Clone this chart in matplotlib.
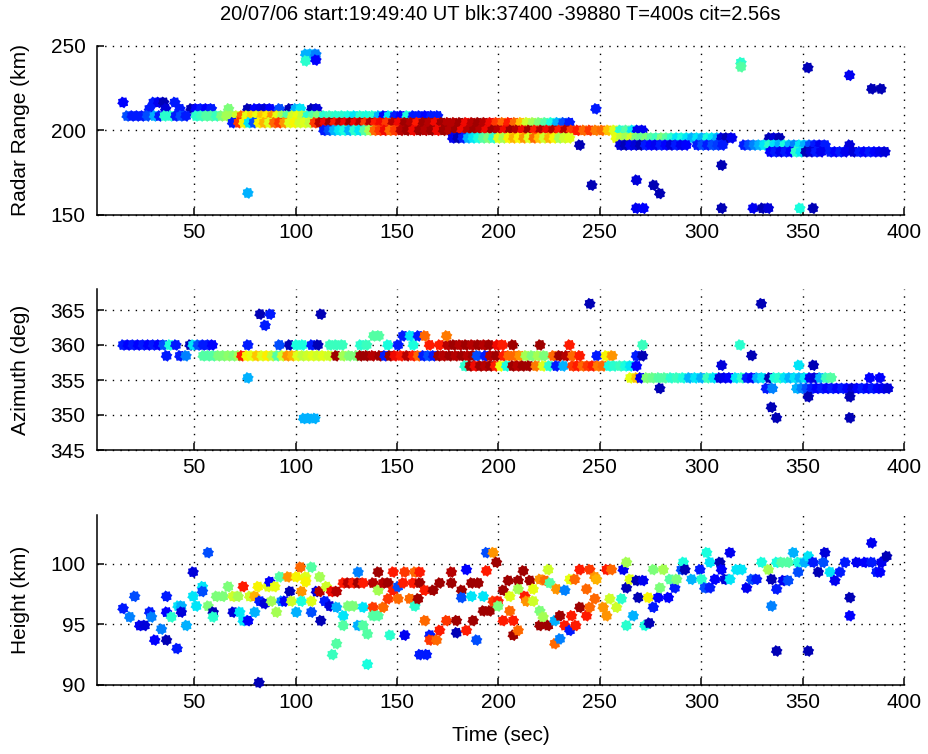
import numpy as np
import matplotlib
matplotlib.use("Agg")
import matplotlib.pyplot as plt
from matplotlib.path import Path

plt.rcParams['font.family'] = ['Liberation Sans', 'DejaVu Sans']

TITLE = "20/07/06 start:19:49:40 UT blk:37400 -39880 T=400s cit=2.56s"
XTICKS = [50, 100, 150, 200, 250, 300, 350, 400]

# ---------------- Radar range panel: horizontal bands (level in km) ----------------
range_levels = [216.5, 212.7, 208.5, 204.5, 200.0, 195.5, 191.3, 187.3]
range_band_t = [
    [15, 30, 32.5, 35, 40.5],
    [28, 36, 43, 48.5, 51, 53.5, 56, 58.5, 67, 76.5, 80, 82.5, 85, 87.5, 92, 97, 100, 102.5, 108, 110.5],
    [17, 19.5, 22, 24.5, 27, 30.5, 33, 35.5, 38.5, 41, 43.5, 46, 51, 53.5, 56, 58.5, 61, 63.5, 66, 68.5,
     71, 73.5, 76, 78.5, 81, 83.5, 86, 88.5, 91, 93.5, 96, 98.5, 101, 103.5, 106, 108.5, 111, 114, 117, 120,
     123, 126, 129, 132, 135, 138, 141, 143.5, 146, 149, 152, 155, 158, 161, 164, 167, 170],
    [69, 72, 74.5, 77, 79.5, 82, 84.5, 87, 89.5, 92, 94.5, 97, 99.5, 102, 104.5, 107, 109.5, 112, 114.5, 117,
     119.5, 122, 124.5, 127, 129.5, 132, 134.5, 137, 139.5, 142, 145, 148, 151, 154, 157, 160, 163, 166, 169, 172,
     175, 178, 181, 184, 187, 190, 193, 196, 199, 202, 205, 208, 211, 214, 217, 220, 223, 226, 229, 232, 235],
    [114, 116.5, 119, 121.5, 124, 126.5, 129, 131.5, 134, 136.5, 139, 141.5, 144, 146.5, 149, 152, 155, 158, 161, 164,
     167, 170, 173, 176, 179, 182, 185, 188, 191, 194, 197, 200, 203, 206, 209, 212, 215, 218, 221, 224,
     227, 230, 233, 236, 239, 242, 245, 248, 251, 254, 257, 260, 263, 266, 268.5, 271],
    [177.5, 180, 182.5, 185, 187.5, 190, 192.5, 195, 197.5, 200, 202.5, 205, 207.5, 210, 212.5, 215, 217.5, 220, 222.5, 225,
     227.5, 230, 232.5, 235, 258, 260.5, 263, 265.5, 268, 270.5, 273, 275.5, 278, 280.5, 283, 285.5, 288, 290.5, 293, 295.5,
     298, 300.5, 303, 305.5, 308, 310, 312.5, 315, 333.5, 336, 338.5],
    [240, 260, 262.5, 265, 267.5, 270, 272.5, 275, 277.5, 280, 282.5, 285, 287.5, 290, 292.5, 298, 300.5, 303, 305.5, 308,
     310.5, 321, 323.5, 326, 328.5, 331, 333.5, 336, 338.5, 341, 343.5, 346, 348.5, 351, 353.5, 356, 358.5, 361, 373],
    [334, 336.5, 339, 341.5, 344, 346.5, 349, 351.5, 354, 356.5, 359, 363.5, 366, 368.5, 371, 375, 378, 380.5, 383, 385.5,
     388, 390.5],
]
range_band_c = [
    [0.12, 0.15, 0.1, 0.05, 0.15],
    [0.15, 0.08, 0.15, 0.05, 0.12, 0.15, 0.12, 0.15, 0.5, 0.05, 0.12, 0.1, 0.08, 0.12, 0.2, 0.05, 0.3, 0.35, 0.05, 0.08],
    [0.2, 0.15, 0.15, 0.15, 0.2, 0.3, 0.15, 0.4, 0.4, 0.15, 0.2, 0.15, 0.4, 0.42, 0.45, 0.45, 0.42, 0.5, 0.55, 0.55,
     0.6, 0.8, 0.63, 0.68, 0.63, 0.7, 0.66, 0.75, 0.63, 0.55, 0.45, 0.6, 0.63, 0.58, 0.4, 0.45, 0.5, 0.4, 0.42, 0.4,
     0.4, 0.38, 0.35, 0.4, 0.38, 0.4, 0.3, 0.12, 0.35, 0.15, 0.12, 0.38, 0.15, 0.15, 0.12, 0.15, 0.15],
    [0.15, 0.85, 0.65, 0.35, 0.2, 0.65, 0.72, 0.62, 0.8, 0.85, 0.75, 0.62, 0.65, 0.6, 0.62, 0.58, 0.85, 0.95, 0.9, 0.97,
     0.88, 0.95, 0.9, 0.97, 0.9, 0.95, 0.85, 0.95, 0.88, 0.9, 0.85, 0.95, 0.9, 0.97, 0.95, 0.88, 0.97, 0.95, 0.9, 0.97,
     0.95, 0.95, 0.97, 0.9, 0.95, 0.97, 0.95, 0.9, 0.85, 0.8, 0.88, 0.8, 0.7, 0.6, 0.55, 0.5, 0.45, 0.38, 0.3, 0.2, 0.15],
    [0.15, 0.2, 0.3, 0.35, 0.38, 0.3, 0.4, 0.35, 0.45, 0.55, 0.8, 0.85, 0.9, 0.8, 0.85, 0.95, 0.97, 0.9, 0.97, 0.95,
     0.97, 0.9, 0.97, 0.95, 0.97, 0.9, 0.95, 0.97, 0.95, 0.9, 0.97, 0.95, 0.9, 0.97, 0.95, 0.9, 0.97, 0.88, 0.95, 0.9,
     0.95, 0.88, 0.95, 0.85, 0.88, 0.8, 0.85, 0.78, 0.8, 0.7, 0.62, 0.4, 0.45, 0.35, 0.1, 0.1],
    [0.1, 0.05, 0.15, 0.3, 0.35, 0.38, 0.45, 0.5, 0.4, 0.62, 0.55, 0.65, 0.72, 0.65, 0.75, 0.62, 0.8, 0.7, 0.6, 0.72,
     0.65, 0.55, 0.6, 0.62, 0.63, 0.58, 0.55, 0.6, 0.5, 0.48, 0.5, 0.45, 0.42, 0.5, 0.45, 0.4, 0.35, 0.38, 0.35, 0.3,
     0.35, 0.3, 0.38, 0.35, 0.3, 0.08, 0.05, 0.1, 0.05, 0.08, 0.05],
    [0.05, 0.08, 0.05, 0.1, 0.08, 0.05, 0.15, 0.12, 0.1, 0.15, 0.12, 0.08, 0.15, 0.1, 0.12, 0.15, 0.2, 0.15, 0.2, 0.18,
     0.15, 0.15, 0.2, 0.25, 0.3, 0.35, 0.4, 0.35, 0.3, 0.38, 0.3, 0.25, 0.35, 0.3, 0.2, 0.15, 0.1, 0.15, 0.08],
    [0.12, 0.15, 0.1, 0.15, 0.12, 0.4, 0.35, 0.05, 0.08, 0.15, 0.1, 0.15, 0.12, 0.15, 0.1, 0.08, 0.15, 0.12, 0.15, 0.12,
     0.1, 0.08],
]
# isolated range echoes
range_out_t = [105, 107.5, 110, 105, 110, 76.5, 319.5, 319.5, 352.5, 373, 384, 388.5, 248, 246,
               268, 276.5, 279.5, 268, 271.5, 310, 310, 325.5, 330, 333, 348.5, 355]
range_out_km = [245, 245, 245, 241, 241.5, 163, 240, 237.5, 237, 232.5, 224.5, 224.5, 212.7, 167.6,
                170.6, 167.6, 162.7, 154, 154, 179.4, 154, 154, 154, 154, 154, 154]
range_out_c = [0.3, 0.3, 0.25, 0.4, 0.12, 0.3, 0.4, 0.45, 0.05, 0.1, 0.05, 0.05, 0.15, 0.05,
               0.08, 0.05, 0.05, 0.1, 0.12, 0.05, 0.05, 0.1, 0.05, 0.08, 0.38, 0.05]

# ---------------- Azimuth panel: horizontal bands (level in deg) ----------------
az_levels = [360.0, 361.3, 358.45, 357.0, 355.3, 353.8]
az_band_t = [
    [15, 17.5, 20, 22.5, 25, 27.5, 30, 32.5, 35, 38, 41, 48, 49.5, 52, 54.5, 57, 59, 76.5, 92, 97,
     100.5, 103.5, 108, 111, 117, 120, 123, 132, 135, 145.5, 150.5, 158, 166, 171, 175, 178, 181, 184, 187, 190,
     193, 195.5, 199.5, 202, 207, 220.5, 235, 271, 319],
    [138.5, 141, 153, 156.5, 160.5, 163.7, 174.4],
    [36.4, 43, 46, 54.5, 57, 59.5, 62, 64.5, 67, 69.5, 72, 73.5, 76, 78.5, 81, 83.5, 86, 88.5, 91, 93.5,
     96, 98.5, 101, 103.5, 106, 108.5, 111, 113.5, 116.5, 120, 123.5, 126.5, 130, 132, 135, 138, 141.5, 144, 146.5, 149,
     152, 155, 158, 160.5, 163, 165.5, 168, 170.5, 173, 176, 179, 182, 185, 187.5, 189.5, 193.5, 196, 199, 202.5, 205,
     208, 210.5, 213.5, 216.5, 219.5, 222.5, 227, 230, 233.5, 236.5, 240, 248.5, 253, 256, 268, 271],
    [183.5, 186, 188.5, 191, 193.5, 196, 198.5, 201, 204, 207, 209.5, 212, 215, 218.5, 222, 225, 228.5, 232, 236.5, 239,
     241.5, 244, 246.5, 249, 251.5, 254.5, 257, 260, 262.5, 265, 268],
    [265, 268, 270, 273, 276, 279, 282, 285, 288, 291, 294, 297, 300, 303, 306, 309, 311.5, 314, 317, 320,
     322.5, 325, 327.5, 330, 333.5, 336, 338.5, 341, 343.5, 346, 348.5, 351, 353.5, 356, 358.5, 361.5, 364, 383, 388],
    [279.5, 332, 335, 347, 349.5, 352, 354.5, 357, 359.5, 362, 364.5, 367, 369.5, 372, 374.5, 377, 379.5, 382, 384.5, 387,
     389.5, 392],
]
az_band_c = [
    [0.15, 0.12, 0.15, 0.12, 0.15, 0.12, 0.15, 0.12, 0.2, 0.38, 0.15, 0.05, 0.35, 0.2, 0.15, 0.15, 0.12, 0.15, 0.2, 0.05,
     0.38, 0.38, 0.15, 0.05, 0.42, 0.42, 0.42, 0.4, 0.42, 0.38, 0.15, 0.38, 0.88, 0.88, 0.95, 0.97, 0.95, 0.97, 0.95, 0.97,
     0.95, 0.97, 0.9, 0.88, 0.97, 0.97, 0.88, 0.42, 0.4],
    [0.45, 0.45, 0.15, 0.35, 0.15, 0.8, 0.78],
    [0.15, 0.15, 0.25, 0.45, 0.45, 0.45, 0.5, 0.5, 0.52, 0.5, 0.55, 0.88, 0.65, 0.63, 0.7, 0.62, 0.66, 0.58, 0.45, 0.6,
     0.75, 0.72, 0.62, 0.58, 0.6, 0.62, 0.6, 0.62, 0.6, 0.97, 0.55, 0.5, 0.5, 0.97, 0.97, 0.95, 0.97, 0.15, 0.97, 0.9,
     0.88, 0.95, 0.88, 0.8, 0.15, 0.2, 0.15, 0.97, 0.95, 0.97, 0.95, 0.97, 0.95, 0.97, 0.2, 0.15, 0.95, 0.97, 0.88, 0.8,
     0.8, 0.75, 0.55, 0.5, 0.55, 0.5, 0.8, 0.97, 0.95, 0.8, 0.88, 0.15, 0.65, 0.75, 0.15, 0.05],
    [0.4, 0.97, 0.9, 0.97, 0.95, 0.97, 0.88, 0.63, 0.38, 0.97, 0.95, 0.97, 0.97, 0.78, 0.62, 0.4, 0.15, 0.3, 0.85, 0.88,
     0.8, 0.85, 0.88, 0.78, 0.8, 0.38, 0.4, 0.42, 0.38, 0.35, 0.12],
    [0.63, 0.7, 0.1, 0.5, 0.48, 0.45, 0.45, 0.4, 0.42, 0.38, 0.3, 0.35, 0.3, 0.42, 0.35, 0.08, 0.1, 0.12, 0.35, 0.4,
     0.15, 0.12, 0.3, 0.35, 0.05, 0.38, 0.4, 0.35, 0.3, 0.35, 0.3, 0.35, 0.1, 0.08, 0.3, 0.42, 0.45, 0.12, 0.12],
    [0.05, 0.15, 0.25, 0.3, 0.25, 0.2, 0.15, 0.12, 0.15, 0.12, 0.15, 0.12, 0.15, 0.12, 0.08, 0.12, 0.15, 0.12, 0.15, 0.12,
     0.1, 0.08],
]
az_out_t = [82.5, 87.5, 85, 112.5, 76.5, 104, 106.5, 109.5, 245, 329.5, 324.8, 310, 348, 355.2, 352.7, 373.2,
            334.5, 337, 373.2]
az_out_deg = [364.4, 364.4, 362.8, 364.4, 355.3, 349.5, 349.5, 349.5, 365.9, 365.9, 358.5, 357.1, 357.1, 357.1,
              352.6, 352.6, 351.1, 349.6, 349.6]
az_out_c = [0.05, 0.15, 0.15, 0.05, 0.3, 0.3, 0.3, 0.3, 0.05, 0.05, 0.05, 0.08, 0.35, 0.05, 0.05, 0.05,
            0.05, 0.05, 0.05]

# ---------------- Height panel ----------------
height_t = [
    15, 18.3, 20.7, 23.2, 25.7, 28.1, 29, 30.6, 33.9, 36.4,
    36.4, 36.4, 38.8, 41.6, 42.1, 43.7, 43.7, 46.2, 49.5, 49.5,
    51.1, 54.1, 54.1, 56.9, 56.9, 59.4, 59.4, 61, 64.3, 66.8,
    69.2, 69.2, 71.7, 72.5, 74.2, 74.2, 76.6, 77.4, 79.9, 79.9,
    81.5, 82, 82.4, 84.8, 86.5, 87.3, 88.1, 89.8, 90.6, 92.2,
    93.1, 94.7, 96.3, 97.2, 98.0, 100.4, 100.4, 102.4, 102.9, 102.9,
    105, 105, 107.8, 107.8, 107.8, 110.3, 111.9, 111.9, 112.4, 114.4,
    115.2, 116.9, 117.7, 120.2, 120.2, 120.2, 118.2, 123.5, 123.5, 123.5,
    125.9, 125.9, 128.4, 128.4, 130.8, 130.8, 130.8, 133.3, 133.3, 133.3,
    135.4, 135.4, 138.2, 138.2, 138.2, 140.7, 140.7, 140.7, 143.2, 143.2,
    145.6, 145.6, 146.5, 148.1, 148.1, 150.5, 150.5, 153, 153.8, 153.8,
    156.3, 157.9, 158.8, 158.8, 160.4, 161.2, 161.2, 161.2, 163.7, 163.7,
    164.5, 166.2, 166.2, 167.8, 169.5, 171, 171, 174.4, 176.8, 176.8,
    179.3, 179.3, 181.8, 181.8, 184.2, 184.2, 186.7, 186.7, 187.5, 189.2,
    190, 192.5, 192.5, 194.1, 194.1, 195.7, 197.4, 197.4, 199, 199.8,
    199.8, 202.3, 202.3, 204.8, 205.6, 205.6, 207.3, 207.3, 209.7, 209.7,
    209.7, 212.2, 213, 213.8, 215.5, 217.1, 217.1, 220.4, 220.4, 220.4,
    222, 222.9, 224.5, 224.5, 225.3, 227.8, 227.8, 228.6, 230.3, 230.3,
    232.7, 232.7, 235.2, 235.2, 236, 237.6, 238.1, 240.1, 240.1, 243.4,
    243.4, 245, 245, 247.5, 247.5, 248.3, 251.6, 253.3, 253.3, 254.9,
    255.7, 258.2, 260.6, 261.5, 263.1, 263.1, 263.1, 264.8, 266.4, 268.1,
    268.9, 271.3, 272.2, 273.8, 274.3, 276.3, 276.3, 278.7, 279.6, 281.2,
    283.7, 284.5, 286.9, 287.8, 290.2, 291.1, 291.9, 295.2, 299.3, 300.1,
    301.7, 302.6, 304.2, 304.2, 306.7, 309.1, 309.9, 311.6, 314.1, 314.1,
    317.3, 319.8, 322.3, 324.7, 327.2, 329.7, 333, 334.6, 334.6, 337.1,
    337.1, 337.1, 339.5, 340.3, 342.8, 342.8, 345.3, 347.7, 347.7, 350.9,
    352.7, 352.7, 355.1, 357.6, 360.1, 360.9, 363.4, 365.8, 368.3, 370.8,
    373.2, 373.2, 376.5, 380.6, 383.9, 383.9, 386.4, 388, 388.8, 391.3,
]
height_km = [
    96.3, 95.6, 97.3, 94.9, 94.9, 96.0, 95.6, 93.7, 94.6, 97.3,
    96.0, 93.7, 95.6, 93.0, 96.5, 96.5, 96.0, 94.9, 99.3, 97.3,
    96.5, 98.1, 97.7, 100.9, 96.5, 96.0, 95.6, 97.3, 97.3, 98.1,
    96.0, 97.3, 97.3, 96.0, 98.1, 95.3, 95.3, 97.3, 97.3, 96.0,
    98.1, 90.2, 96.9, 96.7, 98.1, 98.5, 96.9, 98.1, 96.0, 98.9,
    96.9, 96.9, 98.9, 97.7, 96.9, 98.9, 96.0, 99.7, 97.7, 96.9,
    98.9, 98.5, 99.7, 96.9, 96.0, 97.7, 97.7, 98.9, 95.3, 96.9,
    98.1, 96.5, 97.7, 97.7, 96.4, 93.4, 92.5, 98.4, 95.7, 94.9,
    98.4, 96.5, 98.4, 96.5, 99.3, 98.4, 94.9, 98.4, 96.4, 94.9,
    91.7, 94.2, 98.4, 96.4, 95.7, 99.3, 97.8, 95.7, 98.4, 96.4,
    98.4, 97.1, 94.1, 99.3, 97.8, 98.1, 97.1, 98.4, 99.3, 94.1,
    97.1, 98.4, 99.3, 96.5, 97.1, 99.3, 98.4, 92.5, 95.3, 97.8,
    92.5, 94.1, 93.7, 97.8, 93.7, 94.5, 98.4, 95.3, 99.3, 98.4,
    94.3, 95.3, 97.8, 97.2, 99.5, 94.5, 97.3, 98.4, 95.3, 93.7,
    98.4, 97.3, 96.1, 100.9, 99.4, 96.1, 100.9, 96.9, 100.1, 96.9,
    96.5, 97.8, 95.3, 98.6, 97.3, 96.1, 95.3, 94.1, 98.6, 97.9,
    94.5, 99.4, 97.3, 96.9, 98.6, 97.9, 96.9, 98.7, 96.1, 94.9,
    95.6, 98.6, 94.9, 99.5, 98.4, 93.4, 95.3, 97.9, 93.8, 95.7,
    97.8, 94.9, 98.7, 94.5, 95.7, 98.7, 94.9, 99.5, 96.4, 97.9,
    95.7, 99.5, 96.4, 98.9, 97.1, 98.7, 96.4, 99.5, 95.7, 97.1,
    99.5, 96.4, 97.1, 99.5, 100.1, 98.0, 94.9, 98.7, 95.7, 98.6,
    97.2, 98.6, 94.9, 97.2, 95.1, 96.4, 99.5, 97.2, 98.0, 99.5,
    97.2, 98.7, 98.0, 98.7, 99.5, 100.1, 99.5, 98.7, 99.5, 98.7,
    98.0, 100.9, 100.1, 98.0, 98.7, 100.1, 99.5, 98.7, 100.9, 98.7,
    99.5, 99.5, 98.0, 98.7, 98.7, 100.1, 99.5, 98.7, 96.5, 97.9,
    100.1, 92.8, 100.1, 98.6, 98.6, 100.1, 100.9, 100.1, 99.3, 100.1,
    100.6, 92.8, 100.1, 99.3, 100.1, 100.9, 99.3, 98.6, 99.3, 100.1,
    97.2, 95.7, 100.1, 100.1, 101.7, 100.1, 99.3, 99.3, 100.1, 100.6,
]
height_c = [
    0.15, 0.25, 0.2, 0.1, 0.08, 0.15, 0.25, 0.12, 0.25, 0.15,
    0.12, 0.05, 0.4, 0.15, 0.35, 0.3, 0.08, 0.3, 0.08, 0.35,
    0.35, 0.35, 0.2, 0.2, 0.5, 0.05, 0.4, 0.5, 0.5, 0.5,
    0.08, 0.6, 0.55, 0.35, 0.88, 0.35, 0.12, 0.6, 0.72, 0.3,
    0.65, 0.05, 0.15, 0.08, 0.62, 0.12, 0.55, 0.63, 0.55, 0.45,
    0.25, 0.12, 0.75, 0.05, 0.6, 0.65, 0.3, 0.8, 0.75, 0.38,
    0.62, 0.65, 0.45, 0.62, 0.2, 0.08, 0.95, 0.55, 0.05, 0.15,
    0.6, 0.08, 0.9, 0.95, 0.3, 0.45, 0.42, 0.88, 0.35, 0.45,
    0.95, 0.5, 0.88, 0.5, 0.25, 0.97, 0.3, 0.88, 0.35, 0.45,
    0.38, 0.45, 0.95, 0.85, 0.45, 0.97, 0.55, 0.45, 0.95, 0.8,
    0.97, 0.85, 0.4, 0.88, 0.88, 0.2, 0.8, 0.88, 0.85, 0.1,
    0.8, 0.88, 0.8, 0.4, 0.97, 0.88, 0.97, 0.15, 0.8, 0.88,
    0.15, 0.15, 0.85, 0.97, 0.8, 0.88, 0.97, 0.85, 0.95, 0.97,
    0.05, 0.97, 0.97, 0.2, 0.12, 0.88, 0.35, 0.97, 0.97, 0.2,
    0.97, 0.35, 0.97, 0.2, 0.88, 0.97, 0.75, 0.85, 0.97, 0.88,
    0.5, 0.97, 0.88, 0.97, 0.62, 0.8, 0.88, 0.97, 0.97, 0.55,
    0.8, 0.97, 0.88, 0.75, 0.97, 0.63, 0.6, 0.75, 0.5, 0.97,
    0.55, 0.8, 0.97, 0.6, 0.45, 0.8, 0.3, 0.75, 0.25, 0.97,
    0.25, 0.88, 0.63, 0.15, 0.88, 0.8, 0.88, 0.88, 0.97, 0.8,
    0.88, 0.85, 0.8, 0.75, 0.8, 0.72, 0.75, 0.88, 0.75, 0.6,
    0.8, 0.6, 0.4, 0.1, 0.55, 0.05, 0.4, 0.62, 0.3, 0.05,
    0.05, 0.1, 0.38, 0.65, 0.05, 0.15, 0.5, 0.12, 0.5, 0.55,
    0.12, 0.45, 0.15, 0.5, 0.2, 0.38, 0.05, 0.3, 0.15, 0.4,
    0.2, 0.38, 0.35, 0.15, 0.12, 0.05, 0.12, 0.08, 0.1, 0.35,
    0.35, 0.35, 0.1, 0.2, 0.15, 0.38, 0.55, 0.05, 0.25, 0.15,
    0.38, 0.05, 0.45, 0.1, 0.2, 0.45, 0.3, 0.38, 0.2, 0.3,
    0.35, 0.05, 0.15, 0.05, 0.2, 0.08, 0.35, 0.1, 0.15, 0.15,
    0.05, 0.12, 0.1, 0.12, 0.1, 0.15, 0.15, 0.12, 0.1, 0.05,
]
assert len(height_t) == len(height_km) == len(height_c)


def band_arrays(levels, band_t, band_c):
    ts, ys, cs = [], [], []
    for lev, bt, bc in zip(levels, band_t, band_c):
        assert len(bt) == len(bc)
        ts += list(bt)
        ys += [lev] * len(bt)
        cs += list(bc)
    return ts, ys, cs


# marker: bumpy filled star (MATLAB '*' look)
ang = np.linspace(0, 2 * np.pi, 17)[:-1] + np.pi / 16
rad = np.where(np.arange(16) % 2 == 0, 1.0, 0.78)
verts = np.column_stack([rad * np.cos(ang), rad * np.sin(ang)]).tolist()
MARK = Path(verts + [verts[0]], closed=True)
MS = 72

W, H = 929, 754
fig = plt.figure(figsize=(W / 100, H / 100), dpi=100)
left, right = 96.7, 904.3
panels = [  # (top px, bottom px)
    (45.7, 215.0),
    (289.0, 450.0),
    (515.0, 685.0),
]
axes = []
for top, bot in panels:
    ax = fig.add_axes([left / W, 1 - bot / H, (right - left) / W, (bot - top) / H])
    axes.append(ax)

FS = 15
XMIN = 2


def style(ax, ylim, yticks, ylabel):
    ax.set_xlim(XMIN, 400)
    ax.set_ylim(*ylim)
    ax.set_xticks(XTICKS)
    ax.set_yticks(yticks)
    for s in ['top', 'right']:
        ax.spines[s].set_visible(False)
    for s in ['left', 'bottom']:
        ax.spines[s].set_linewidth(1.1)
    ax.tick_params(direction='in', length=5, width=1.1, labelsize=FS, pad=6)
    ax.tick_params(axis='y', pad=8)
    ax.grid(True, color='black', linestyle=(0, (1, 4.5)), linewidth=1.0)
    for ln in ax.get_xgridlines() + ax.get_ygridlines():
        ln.set_clip_on(False)
    ax.set_axisbelow(True)
    ax.set_ylabel(ylabel, fontsize=FS)
    ax.yaxis.set_label_coords(-0.083, 0.5)


# range panel
ax = axes[0]
ts, ys, cs = band_arrays(range_levels, range_band_t, range_band_c)
ts += range_out_t; ys += range_out_km; cs += range_out_c
ax.scatter(ts, ys, c=cs, cmap='jet', vmin=0, vmax=1, marker=MARK, s=MS, linewidths=0, clip_on=False, zorder=3)
style(ax, (150, 250), [150, 200, 250], 'Radar Range (km)')

# azimuth panel
ax = axes[1]
ts, ys, cs = band_arrays(az_levels, az_band_t, az_band_c)
ts += az_out_t; ys += az_out_deg; cs += az_out_c
ax.scatter(ts, ys, c=cs, cmap='jet', vmin=0, vmax=1, marker=MARK, s=MS, linewidths=0, clip_on=False, zorder=3)
style(ax, (345, 368), [345, 350, 355, 360, 365], 'Azimuth (deg)')

# height panel
ax = axes[2]
ax.scatter(height_t, height_km, c=height_c, cmap='jet', vmin=0, vmax=1, marker=MARK, s=MS, linewidths=0, clip_on=False, zorder=3)
style(ax, (90, 104), [90, 95, 100], 'Height (km)')
ax.set_xlabel('Time (sec)', fontsize=FS, labelpad=10)

fig.text((left + right) / 2 / W, 1 - 15 / H, TITLE, ha='center', va='center', fontsize=14.5)

fig.savefig('out.png', dpi=100)
